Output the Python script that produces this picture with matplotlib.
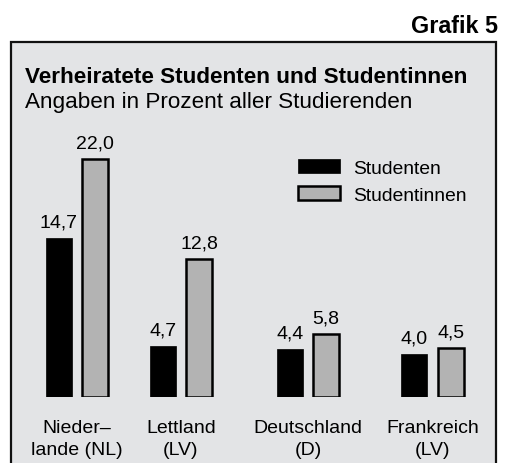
import matplotlib
matplotlib.use("Agg")
import matplotlib.pyplot as plt
import matplotlib.patches as mpatches
import numpy as np

plt.rcParams['font.family'] = ['Liberation Sans', 'DejaVu Sans']

# ---- data ----
categories = ["Nieder–\nlande (NL)", "Lettland\n(LV)", "Deutschland\n(D)", "Frankreich\n(LV)"]
studenten = [14.7, 4.7, 4.4, 4.0]
studentinnen = [22.0, 12.8, 5.8, 4.5]
series_names = ["Studenten", "Studentinnen"]
title = "Verheiratete Studenten und Studentinnen"
subtitle = "Angaben in Prozent aller Studierenden"
corner_label = "Grafik 5"

# ---- layout ----
W, H = 509, 464
fig = plt.figure(figsize=(W / 100, H / 100), dpi=100)
fig.patch.set_facecolor("white")

def fx(px):
    return px / W

def fy(py):
    return 1 - py / H

# background box
box = mpatches.Rectangle((fx(11), -0.05), fx(496) - fx(11), fy(43) + 0.05,
                         transform=fig.transFigure, facecolor="#e3e4e6",
                         edgecolor="#111111", linewidth=1.6, zorder=0)
fig.add_artist(box)

fig.text(fx(498), fy(33.3), corner_label, ha="right", va="baseline",
         fontsize=16.8, fontweight="bold")
fig.text(fx(25), fy(83.3), title, ha="left", va="baseline",
         fontsize=16.2, fontweight="bold")
fig.text(fx(25), fy(108.3), subtitle, ha="left", va="baseline", fontsize=16.2)

group_pos = np.array([0.0, 1.0, 2.22, 3.42])
bar_w = 0.25
off = 0.175
unit_px = 104.0
x0_px = 77.0

ax = fig.add_axes([0, (H - 398) / H, 1, 259.2 / H])
ax.set_facecolor("none")
ax.set_xlim(-x0_px / unit_px, (W - x0_px) / unit_px)
ax.set_ylim(0, 24)
for s in ax.spines.values():
    s.set_visible(False)
ax.set_yticks([])

b1 = ax.bar(group_pos - off, studenten, width=bar_w, color="black",
            edgecolor="black", linewidth=0.5, label=series_names[0], zorder=3)
b2 = ax.bar(group_pos + off, studentinnen, width=bar_w, color="#b3b3b3",
            edgecolor="black", linewidth=1.8, label=series_names[1], zorder=3)

fmt = lambda v: f"{v:.1f}".replace(".", ",")
ax.bar_label(b1, labels=[fmt(v) for v in studenten], padding=5.5, fontsize=14)
ax.bar_label(b2, labels=[fmt(v) for v in studentinnen], padding=5.5, fontsize=14)

ax.set_xticks(group_pos)
ax.set_xticklabels(categories, fontsize=14, linespacing=1.35)
ax.tick_params(axis="x", length=0, pad=16)

leg = ax.legend(handles=[b1, b2], loc="upper left",
                bbox_to_anchor=(fx(298), fy(160)), bbox_transform=fig.transFigure,
                frameon=False, fontsize=13.9, handlelength=2.2, handleheight=0.72,
                handletextpad=0.66, labelspacing=0.48, borderpad=0, borderaxespad=0)

fig.savefig("out.png", dpi=100)
